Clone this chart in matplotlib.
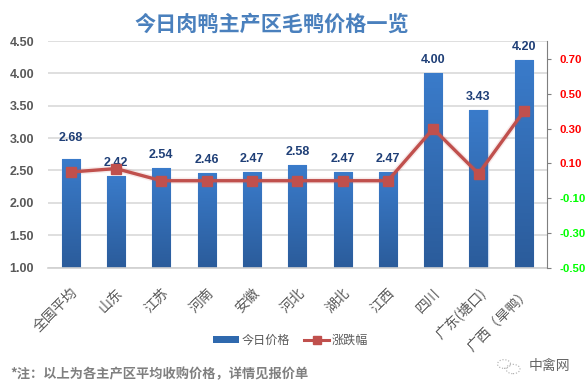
import numpy as np
import matplotlib as mpl
import matplotlib.pyplot as plt
from matplotlib.colors import LinearSegmentedColormap
from matplotlib.patches import Circle, Patch
from matplotlib.lines import Line2D

plt.rcParams['font.family'] = ['Noto Sans CJK SC', 'DejaVu Sans']

# Goal: price bars with a daily change line on a second axis
regions = ['全国平均', '山东', '江苏', '河南', '安徽', '河北', '湖北', '江西', '四川', '广东(塘口)', '广西（旱鸭）']
prices = [2.68, 2.42, 2.54, 2.46, 2.47, 2.58, 2.47, 2.47, 4.00, 3.43, 4.20]
changes = [0.05, 0.07, 0.00, 0.00, 0.00, 0.00, 0.00, 0.00, 0.30, 0.04, 0.40]
left_ticks = [1.0, 1.5, 2.0, 2.5, 3.0, 3.5, 4.0, 4.5]
right_ticks = [-0.5, -0.3, -0.1, 0.1, 0.3, 0.5, 0.7]

W, H = 588, 392
num_font = 'Liberation Sans'
fig = plt.figure(figsize=(W / 100, H / 100), dpi=100)
ax = fig.add_axes([48 / W, 1 - 267.5 / H, 498.5 / W, 226.5 / H])
x = np.arange(len(regions))
bar_w = 0.4
grad = LinearSegmentedColormap.from_list('bar', ['#2b5c9b', '#3a7bca'])

ax.set_xlim(-0.5, len(regions) - 0.5)
ax.set_ylim(1, 4.5)
ax.set_yticks(left_ticks)
ax.set_yticklabels(['%.2f' % t for t in left_ticks], fontsize=9, fontweight='bold', color='#595959', family=num_font)
ax.grid(axis='y', color='#d9d9d9', lw=1.2)
ax.set_axisbelow(True)
for s in ['top', 'left', 'right']:
    ax.spines[s].set_visible(False)
ax.spines['bottom'].set_color('#d0d0d0')
ax.spines['bottom'].set_linewidth(1.2)
ax.tick_params(axis='y', length=0, pad=10)
ax.tick_params(axis='x', length=0, pad=13)
ax.set_xticks(x)
ax.set_xticklabels(regions, rotation=45, ha='right', rotation_mode='anchor', fontsize=10, color='#595959')

bars = ax.bar(x, prices, width=bar_w, color='none', edgecolor='#c9daf0', lw=1.0, zorder=2)
for bar, xi, v in zip(bars, x, prices):
    im = ax.imshow(np.linspace(1, 0, 64).reshape(-1, 1), cmap=grad, aspect='auto', zorder=2.1,
                   extent=(xi - bar_w / 2, xi + bar_w / 2, 1, v))
    im.set_clip_path(bar)
    # the first label sits higher than the rest in the original
    lift = 11 if xi == 0 else 5
    ax.annotate('%.2f' % v, (xi, v), xytext=(0, lift), textcoords='offset points', ha='center', va='bottom',
                fontsize=9, fontweight='bold', color='#1f3f77', family=num_font, zorder=6)
ax.set_xlim(-0.5, len(regions) - 0.5)
ax.set_ylim(1, 4.5)

ax2 = ax.twinx()
ax2.set_ylim(-0.5, 0.805)
ax2.set_yticks(right_ticks)
ax2.set_yticklabels(['%.2f' % t for t in right_ticks], fontsize=8.2, fontweight='bold', family=num_font)
for lab, t in zip(ax2.get_yticklabels(), right_ticks):
    lab.set_color('#ff0000' if t > 0 else '#00ff00')
for s in ['top', 'left', 'bottom']:
    ax2.spines[s].set_visible(False)
ax2.spines['right'].set_color('#7f7f7f')
ax2.tick_params(axis='y', length=3, color='#7f7f7f', pad=6, direction='out')
ax2.plot(x, changes, color='#c0504d', lw=4.5, alpha=0.12, zorder=3)
ax2.plot(x, changes, color='#c0504d', lw=2.4, marker='s', ms=7.2, zorder=4)

fig.text(272 / W, 1 - 24 / H, '今日肉鸭主产区毛鸭价格一览', ha='center', va='center', fontsize=15.2,
         fontweight='bold', color='#4a80bd')

handles = [Patch(facecolor='#2f69ae'), Line2D([], [], color='#c0504d', lw=2.2, marker='s', ms=5.5)]
fig.legend(handles, ['今日价格', '涨跌幅'], loc='center', bbox_to_anchor=(290.5 / W, 1 - 340 / H), ncol=2,
           frameon=False, fontsize=8.7, labelcolor='#595959', handlelength=2.15, handleheight=0.55,
           columnspacing=1.15, handletextpad=0.2)

fig.text(10 / W, 1 - 374 / H, '*注：以上为各主产区平均收购价格，详情见报价单', ha='left', va='center',
         fontsize=9.5, fontweight='bold', color='#7f7f7f')

# watermark
fig.text(529 / W, 1 - 366 / H, '中禽网', ha='left', va='center', fontsize=10, color='#666666')
for cx, cy, r in [(504, 364, 6.5), (513, 369, 7)]:
    fig.add_artist(Circle((cx / W, 1 - cy / H), r / W, transform=fig.transFigure, fill=False,
                          ec='#aaaaaa', lw=0.8, ls=':'))

fig.savefig('out.png', dpi=100)
